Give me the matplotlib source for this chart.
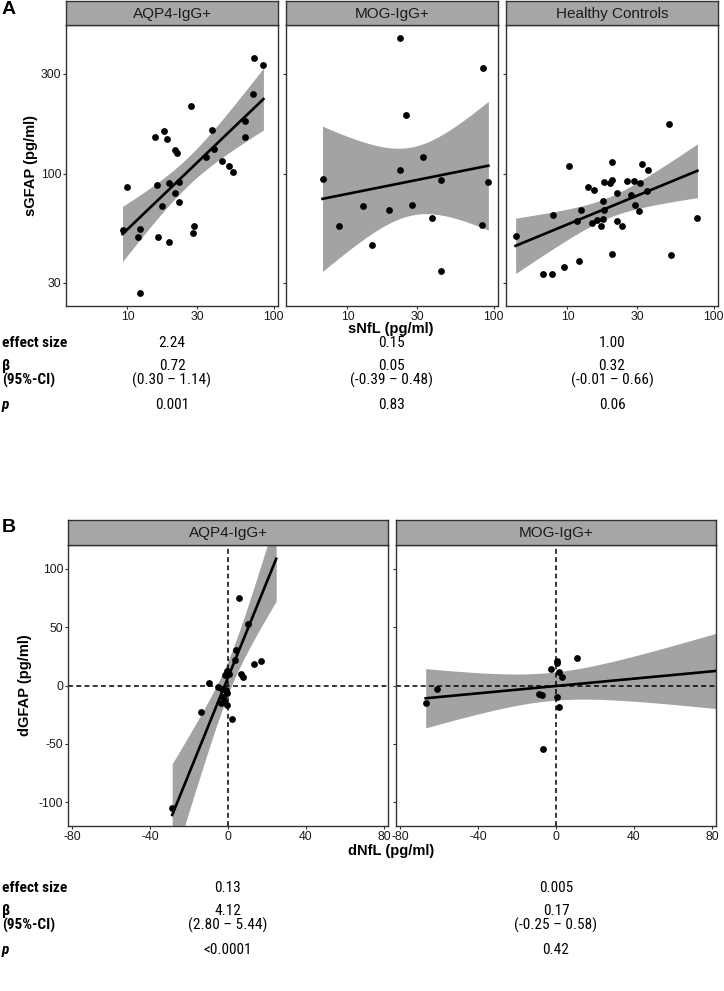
"""
sGFAP vs sNfL (A) and dGFAP vs dNfL (B), faceted scatter with lm fit
"""
import numpy as np
import matplotlib.pyplot as plt
from matplotlib import font_manager
from matplotlib.ticker import FixedLocator, NullLocator, FixedFormatter

plt.rcParams['font.family'] = ['Liberation Sans', 'DejaVu Sans']
plt.rcParams['axes.unicode_minus'] = False

# ----- data: panel A (serum levels, log scale) -----
groups_a = ["AQP4-IgG+", "MOG-IgG+", "Healthy Controls"]

aqp4_snfl = [9.25, 10.0, 12.1, 11.8, 12.1, 15.4, 17.9, 18.5, 16.0, 16.2, 17.2,
             19.1, 19.1, 21.2, 21.9, 21.1, 22.6, 22.4, 27.0, 28.6, 27.9, 34.3,
             38.0, 39.0, 44.0, 49.2, 52.4, 63.7, 63.7, 72.6, 73.7, 85.1]
aqp4_sgfap = [53.7, 86.0, 54.5, 49.9, 26.8, 149.6, 159, 146, 88.6, 49.7, 69.6,
              46.9, 89.9, 128.8, 125, 80.9, 91, 73.2, 211, 56.3, 51.9, 119.7,
              162, 131, 115, 108.8, 101.5, 179, 149, 239, 355, 329]

mog_snfl = [6.75, 8.74, 12.8, 14.7, 19.2, 22.9, 22.9, 25.1, 27.7, 32.9, 37.8,
            43.3, 43.3, 83, 85.1, 92]
mog_sgfap = [94, 55.9, 70.2, 45.5, 67.1, 445, 104, 190, 70.9, 120.5, 61.2,
             93, 34.2, 56.6, 319, 91]

hc_snfl = [4.42, 6.84, 7.8, 7.96, 9.4, 10.3, 11.7, 12.0, 12.3, 13.8, 14.7, 15.2,
           15.8, 17.0, 17.5, 17.5, 17.8, 17.9, 19.4, 20.1, 20.2, 20.2, 21.9,
           21.9, 23.6, 25.6, 27.1, 28.7, 28.9, 30.7, 31.2, 32.4, 34.8, 35.6,
           49.3, 50.9, 77.5]
hc_sgfap = [50.2, 33, 33.2, 63.1, 35.6, 108.8, 59, 38.2, 67.3, 86.1, 58, 83.3,
            59.7, 56.1, 73.5, 60.8, 67.3, 91, 89.9, 92.6, 114, 41.1, 80.9,
            59, 55.9, 92.3, 79.1, 91.6, 70.8, 66.3, 89.9, 111.6, 82.9, 103.7,
            171.5, 40.7, 61.2]

# ----- data: panel B (changes; last point of each group lies outside the view) -----
groups_b = ["AQP4-IgG+", "MOG-IgG+"]

aqp4_dnfl = [-28.6, -13.7, -9.8, -5.1, -2.9, -1.2, -0.5, -2.4, -2.0, -3.7, -0.7,
             2.2, -0.3, 0.5, -1.7, 3.6, 3.96, 5.65, 10.3, 6.5, 7.9, 13.4, 17.1,
             24.7]
aqp4_dgfap = [-104.9, -22.5, 2.0, -1.7, -3.1, -3.7, -6.5, -9.5, -13.7, -14.6,
              -16.6, -28.4, 12.6, 9.8, 9.2, 21.5, 30.7, 75.1, 53, 10, 7.2, 18.7,
              20.6, 215]

mog_dnfl = [-66.8, -61.2, -8.5, -7.0, -6.5, -2.4, 0.7, 0.3, 1.4, 3.2, 0.5, 1.5,
            10.9, 90]
mog_dgfap = [-15.2, -2.9, -7.4, -8.3, -54.7, 14.0, 20.6, 19.5, 11.2, 7.2, -9.5,
             -18.6, 23.2, 8]

# ----- table values -----
a_effect = ["2.24", "0.15", "1.00"]
a_beta = ["0.72", "0.05", "0.32"]
a_ci = ["(0.30 \u2013 1.14)", "(-0.39 \u2013 0.48)", "(-0.01 \u2013 0.66)"]
a_p = ["0.001", "0.83", "0.06"]

b_effect = ["0.13", "0.005"]
b_beta = ["4.12", "0.17"]
b_ci = ["(2.80 \u2013 5.44)", "(-0.25 \u2013 0.58)"]
b_p = ["<0.0001", "0.42"]

W, H = 724, 991
BAND = "#A3A3A3"
STRIP = "#A6A6A6"
EDGE = "#333333"

# narrow font for the tables, if one is installed
installed = {f.name for f in font_manager.fontManager.ttflist}
TABLE_KW = dict(family=["Liberation Sans"], fontsize=9.6)
for cand in ["Liberation Sans Narrow", "Roboto Condensed", "DejaVu Sans Condensed"]:
    if cand in installed:
        TABLE_KW = dict(family=[cand, "DejaVu Sans"], fontsize=11)
        break
else:
    if any(f.name == "DejaVu Sans" and f.stretch == "condensed"
           for f in font_manager.fontManager.ttflist):
        TABLE_KW = dict(family=["DejaVu Sans"], fontstretch="condensed", fontsize=9.6)


def t975(df):
    z = 1.959964
    return (z + (z**3 + z) / 4 / df + (5*z**5 + 16*z**3 + 3*z) / 96 / df**2
            + (3*z**7 + 19*z**5 + 17*z**3 - 15*z) / 384 / df**3)


def lm_band(x, y, grid):
    n = len(x)
    b, a = np.polyfit(x, y, 1)
    res = y - (a + b * x)
    s2 = (res ** 2).sum() / (n - 2)
    sxx = ((x - x.mean()) ** 2).sum()
    fit = a + b * grid
    se = np.sqrt(s2 * (1 / n + (grid - x.mean()) ** 2 / sxx))
    t = t975(n - 2)
    return fit, fit - t * se, fit + t * se


def rect(left, top, right, bottom):
    return [left / W, 1 - bottom / H, (right - left) / W, (bottom - top) / H]


def style_axes(ax):
    for s in ax.spines.values():
        s.set_color(EDGE)
        s.set_linewidth(1.0)
    ax.tick_params(length=2.5, width=0.8, color=EDGE, labelsize=8.8,
                   labelcolor="#1a1a1a", pad=0.8)


def add_strip(fig, left, top, right, bottom, label):
    s = fig.add_axes(rect(left, top, right, bottom))
    s.set_facecolor(STRIP)
    s.set_xticks([])
    s.set_yticks([])
    for sp in s.spines.values():
        sp.set_color(EDGE)
        sp.set_linewidth(1.0)
    s.text(0.5, 0.47, label, ha="center", va="center", fontsize=11,
           color="#1a1a1a", transform=s.transAxes)


def fig_text(x, y, s, **kw):
    fig.text(x / W, 1 - y / H, s, **kw)


fig = plt.figure(figsize=(W / 100, H / 100), dpi=100)

# ----- panel A -----
a_x = [np.array(aqp4_snfl), np.array(mog_snfl), np.array(hc_snfl)]
a_y = [np.array(aqp4_sgfap), np.array(mog_sgfap), np.array(hc_sgfap)]

lx = np.log10(np.concatenate(a_x))
ly = np.log10(np.concatenate(a_y))
xlim_a = 10 ** (np.array([lx.min(), lx.max()]) + np.array([-1, 1]) * 0.05 * np.ptp(lx))
ylim_a = 10 ** (np.array([ly.min(), ly.max()]) + np.array([-1, 1]) * 0.05 * np.ptp(ly))

lefts_a = [66, 286, 506]
for i, g in enumerate(groups_a):
    l = lefts_a[i]
    ax = fig.add_axes(rect(l, 25, l + 212, 306))
    x, y = a_x[i], a_y[i]
    gx = np.linspace(np.log10(x.min()), np.log10(x.max()), 200)
    fit, lo, hi = lm_band(np.log10(x), np.log10(y), gx)
    ax.fill_between(10 ** gx, 10 ** lo, 10 ** hi, color=BAND, lw=0, zorder=1)
    ax.plot(10 ** gx, 10 ** fit, color="black", lw=1.9, zorder=3)
    ax.scatter(x, y, s=24, color="black", lw=0, zorder=4)
    ax.set_xscale("log")
    ax.set_yscale("log")
    ax.set_xlim(xlim_a)
    ax.set_ylim(ylim_a)
    ax.xaxis.set_major_locator(FixedLocator([10, 30, 100]))
    ax.xaxis.set_major_formatter(FixedFormatter(["10", "30", "100"]))
    ax.yaxis.set_major_locator(FixedLocator([30, 100, 300]))
    ax.yaxis.set_major_formatter(FixedFormatter(["30", "100", "300"]))
    ax.xaxis.set_minor_locator(NullLocator())
    ax.yaxis.set_minor_locator(NullLocator())
    style_axes(ax)
    if i > 0:
        ax.tick_params(axis="y", labelleft=False)
    add_strip(fig, l, 1, l + 212, 25, g)

fig_text(391, 329, "sNfL (pg/ml)", ha="center", va="center", fontsize=10.5,
         fontweight="bold")
fig_text(31, 165, "sGFAP (pg/ml)", ha="center", va="center", fontsize=10.5,
         fontweight="bold", rotation=90)
fig_text(2, 10, "A", ha="left", va="center", fontsize=14, fontweight="bold")

# ----- panel B -----
b_x = [np.array(aqp4_dnfl), np.array(mog_dnfl)]
b_y = [np.array(aqp4_dgfap), np.array(mog_dgfap)]

lefts_b = [68, 396]
for i, g in enumerate(groups_b):
    l = lefts_b[i]
    ax = fig.add_axes(rect(l, 545, l + 320, 826))
    x, y = b_x[i], b_y[i]
    gx = np.linspace(x.min(), x.max(), 200)
    fit, lo, hi = lm_band(x, y, gx)
    ax.fill_between(gx, lo, hi, color=BAND, lw=0, zorder=1)
    ax.axhline(0, color="black", lw=1.1, ls=(0, (3.2, 2.2)), zorder=2)
    ax.axvline(0, color="black", lw=1.1, ls=(0, (3.2, 2.2)), zorder=2)
    ax.plot(gx, fit, color="black", lw=1.9, zorder=3)
    ax.scatter(x, y, s=24, color="black", lw=0, zorder=4)
    ax.set_xlim(-82, 82)
    ax.set_ylim(-120.5, 120.5)
    ax.set_xticks([-80, -40, 0, 40, 80])
    ax.set_yticks([-100, -50, 0, 50, 100])
    style_axes(ax)
    if i > 0:
        ax.tick_params(axis="y", labelleft=False)
    add_strip(fig, l, 520, l + 320, 545, g)

fig_text(391, 851, "dNfL (pg/ml)", ha="center", va="center", fontsize=10.5,
         fontweight="bold")
fig_text(25, 685, "dGFAP (pg/ml)", ha="center", va="center", fontsize=10.5,
         fontweight="bold", rotation=90)
fig_text(2, 527, "B", ha="left", va="center", fontsize=14, fontweight="bold")


# ----- tables -----
def table(rows_y, centers, effect, beta, ci, p):
    kw = dict(va="center", **TABLE_KW)
    fig_text(2, rows_y[0], "effect size", ha="left", fontweight="bold", **kw)
    fig_text(2, rows_y[1], "\u03b2", ha="left", fontweight="bold", **kw)
    fig_text(2, rows_y[2], "(95%-CI)", ha="left", fontweight="bold", **kw)
    fig_text(2, rows_y[3], "p", ha="left", fontweight="bold", style="italic", **kw)
    for c, e, b, ci_, pv in zip(centers, effect, beta, ci, p):
        fig_text(c, rows_y[0], e, ha="center", **kw)
        fig_text(c, rows_y[1], b, ha="center", **kw)
        fig_text(c, rows_y[2], ci_, ha="center", **kw)
        fig_text(c, rows_y[3], pv, ha="center", **kw)


table([343, 366, 380, 405], [172, 392, 612], a_effect, a_beta, a_ci, a_p)
table([888, 911, 925, 950], [228, 556], b_effect, b_beta, b_ci, b_p)

fig.savefig("out.png", dpi=100)
